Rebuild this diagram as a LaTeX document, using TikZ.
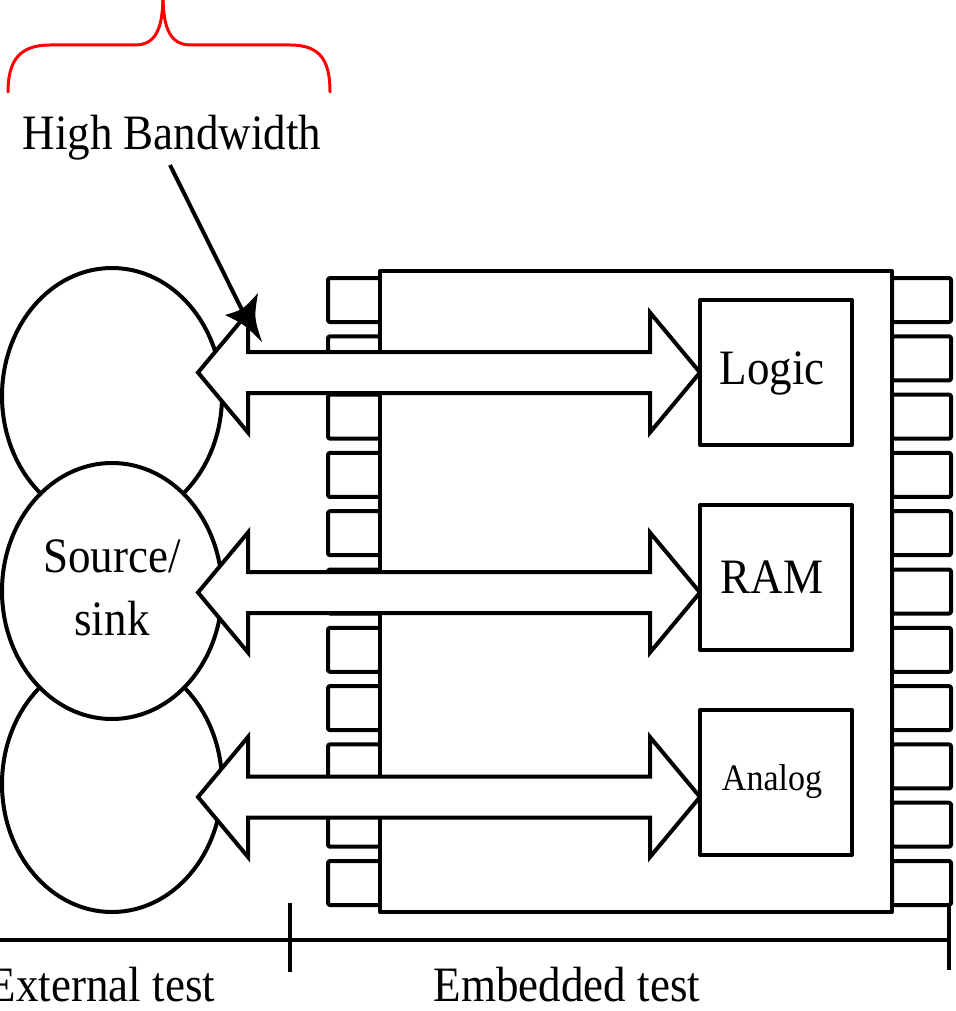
\documentclass[tikz,border=0pt]{standalone}
\usepackage{fontspec}
\setmainfont{Liberation Serif}
\usetikzlibrary{shapes.geometric}
\begin{document}
\begin{tikzpicture}[x=0.5pt,y=-0.5pt,
  ln/.style={line width=2pt, line join=round},
  pin/.style={ln, draw=black, fill=white, rounded corners=1pt},
  chip/.style={ln, draw=black, fill=white},
  blk/.style={ln, draw=black, fill=white, minimum width=76pt, minimum height=72.5pt, inner sep=0pt},
  oval/.style={ln, draw=black, fill=white, ellipse, inner sep=0pt, minimum width=110pt, minimum height=128pt},
  arr/.style={ln, draw=black, fill=white, line join=miter},
  big/.style={font=\fontsize{22.5}{28.6}\selectfont, inner sep=0pt},
  small/.style={font=\fontsize{17}{20}\selectfont, inner sep=0pt},
  brace/.style={line width=1.5pt, draw=red, line cap=round}
]
\useasboundingbox (0,0) rectangle (956,1011);
\clip (0,0) rectangle (956,1011);
% pins
\foreach \i in {0,...,10}{
  \pgfmathsetmacro{\py}{278+58.3*\i}
  \draw[pin] (328,\py) rectangle (380,\py+44);
  \draw[pin] (892,\py) rectangle (951,\py+44);
}
% chip body
\draw[chip] (380,271) rectangle (892,912);
% source/sink ovals
\node[oval] (ovtop) at (112,396) {};
\node[oval] (ovbot) at (112,784) {};
\node[oval] (src) at (112,591) {};
% double arrows
\foreach \c in {372.5,592.5,797}{
  \draw[arr] (198,\c) -- (248,\c-60) -- (248,\c-20.5) -- (650,\c-20.5) -- (650,\c-60) -- (700,\c)
    -- (650,\c+60) -- (650,\c+20.5) -- (248,\c+20.5) -- (248,\c+60) -- cycle;
}
% inner blocks
\node[blk] (logic) at (776,372.5) {};
\node[blk] (ram) at (776,577.5) {};
\node[blk] (analog) at (776,782.5) {};
\node[big] at (772,373) {\scalebox{1}[1.1]{Logic}};
\node[big] at (772,577) {\scalebox{1}[1.1]{RAM}};
\node[small] at (772,782) {\scalebox{1}[1.1]{Analog}};
\node[big, align=center] at (src.center) {\scalebox{1}[1.1]{\begin{tabular}{@{}c@{}}Source/\\sink\end{tabular}}};
% high bandwidth label and pointer
\node[big] (hb) at (172,138) {\scalebox{1}[1.1]{High Bandwidth}};
\coordinate (pstart) at (170,165);
\coordinate (pend) at (246,318);
\coordinate (ptip) at (262,342);
\draw[ln] (pstart) -- (pend);
\fill (ptip) .. controls (254,317.7) .. (258,293) .. controls (243.1,309.6) .. (225,315) .. controls (244.1,324.3) .. (ptip);
% brace
\draw[brace] (8,92) .. controls (8,60) and (20,45) .. (50,45) -- (135,45)
  .. controls (155,45) and (163,30) .. (163,-5);
\draw[brace] (163,-5) .. controls (163,30) and (171,45) .. (191,45) -- (290,45)
  .. controls (320,45) and (330,60) .. (330,92);
% bottom scale
\coordinate (l0) at (0,940);
\coordinate (l1) at (950,940);
\coordinate (t0a) at (290,903);
\coordinate (t0b) at (290,972);
\coordinate (t1a) at (949,906);
\coordinate (t1b) at (949,970);
\draw[ln] (l0) -- (l1);
\draw[ln] (t0a) -- (t0b);
\draw[ln] (t1a) -- (t1b);
\node[big] (ext) at (102,985) {\scalebox{1}[1.1]{External test}};
\node[big] (emb) at (567,985) {\scalebox{1}[1.1]{Embedded test}};
\end{tikzpicture}
\end{document}
